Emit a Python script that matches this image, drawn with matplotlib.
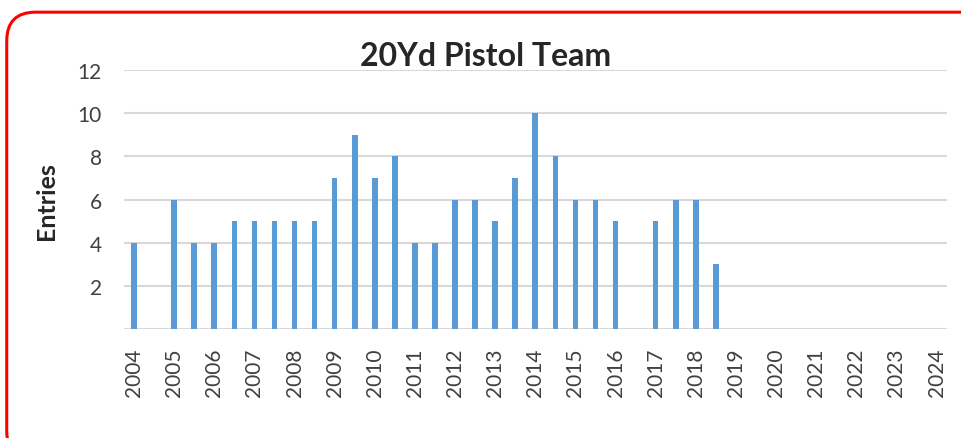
import numpy as np
import matplotlib.pyplot as plt
from matplotlib.patches import FancyBboxPatch

plt.rcParams['font.family'] = ['Lato', 'DejaVu Sans']

# Дані: два записи на рік (кожен другий слот підписано роком)
year_labels = [str(y) for y in range(2004, 2025)]
entries = [4, None, 6, 4, 4, 5, 5, 5, 5, 5,
           7, 9, 7, 8, 4, 4, 6, 6, 5, 7,
           10, 8, 6, 6, 5, None, 5, 6, 6, 3,
           None, None, None, None, None, None, None, None, None, None,
           None]

values = np.array([np.nan if v is None else v for v in entries], dtype=float)
slots = np.arange(len(values))

fig = plt.figure(figsize=(9.61, 4.39), dpi=100)
ax = fig.add_axes([0.129, 0.248, 0.856, 0.59])

# червона рамка з заокругленими кутами
frame = FancyBboxPatch((0.007, -0.05), 1.05, 1.02, transform=fig.transFigure,
                       boxstyle='round,pad=0,rounding_size=0.03',
                       mutation_aspect=961 / 439,
                       facecolor='none', edgecolor='#ff0000', linewidth=2.2,
                       clip_on=False)
fig.patches.append(frame)

ax.bar(slots, np.nan_to_num(values), width=0.28, color='#5b9bd5', zorder=3)

ax.set_xlim(-0.5, len(values) - 0.5)
ax.set_ylim(0, 12)
ax.set_yticks(range(2, 13, 2))
ax.yaxis.grid(True, color='#d9d9d9', linewidth=1.5, zorder=0)
ax.axhline(0, color='#d9d9d9', linewidth=1.5, zorder=1)

ax.set_xticks(slots[::2])
ax.set_xticklabels(year_labels, rotation=90)
ax.tick_params(axis='both', length=0, labelsize=15, labelcolor='#404040')
ax.tick_params(axis='x', pad=13)
ax.tick_params(axis='y', pad=16)

for s in ax.spines.values():
    s.set_visible(False)

ax.set_ylabel('Entries', fontsize=18, fontweight='bold', color='#262626', labelpad=14)
fig.text(0.505, 0.872, '20Yd Pistol Team', ha='center', va='center',
         fontsize=23, fontweight='bold', color='#262626')

fig.savefig('out.png', dpi=100)
